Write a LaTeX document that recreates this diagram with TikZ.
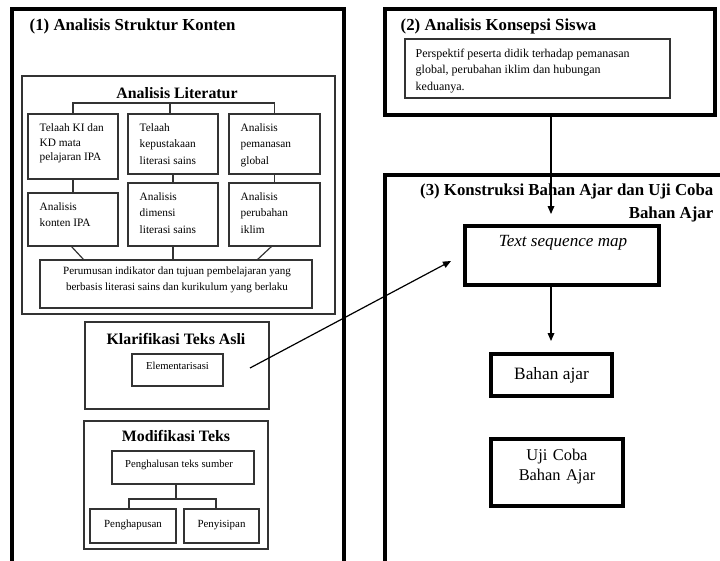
\documentclass[tikz,border=0pt]{standalone}
\usepackage{fontspec}
\setmainfont{Liberation Serif}
\usetikzlibrary{fit,arrows.meta}
\tikzset{
  outerbox/.style={draw, line width=2.6pt, inner sep=0pt},
  litbox/.style={draw=black!80, line width=0.9pt, inner sep=0pt},
  heavybox/.style={draw, line width=2.3pt, inner sep=0pt},
  smalltxt/.style={font=\fontsize{8.5}{11.5}\selectfont, align=left},
  ttl/.style={font=\bfseries\fontsize{12.6}{14}\selectfont},
  subttl/.style={font=\bfseries\fontsize{11.9}{13}\selectfont},
  conn/.style={draw=black!80, line width=0.9pt},
  arr/.style={draw, line width=0.9pt, -{Triangle[length=6pt,width=5pt]}}
}
\begin{document}
\begin{tikzpicture}[x=0.75pt,y=-0.75pt]
\useasboundingbox (0,0) rectangle (720,560);
\begin{scope}
\clip (0,0) rectangle (720,560);
% outer frames
\node[outerbox, fit={(12,9)(344,590)}] (b1) {};
\node[outerbox, fit={(385,9)(715,115)}] (b2) {};
\node[outerbox, fit={(385,175)(740,590)}] (b3) {};
\end{scope}
% titles
\node[ttl, anchor=west] (t1) at (25,26) {(1) Analisis Struktur Konten};
\node[ttl, anchor=west] (t2) at (396,26) {(2) Analisis Konsepsi Siswa};
\node[ttl, anchor=east, align=right, font=\bfseries\fontsize{12.6}{17}\selectfont] (t3) at (718,203) {(3) Konstruksi Bahan Ajar dan Uji Coba\\Bahan Ajar};
% box 2 content
\node[litbox, fit={(405,39)(670,98)}] (persp) {};
\node[smalltxt, anchor=north west, font=\fontsize{9}{12.5}\selectfont] (persptxt) at (411,44) {Perspektif peserta didik terhadap pemanasan\\global, perubahan iklim dan hubungan\\keduanya.};
% literature analysis
\node[litbox, fit={(22,76)(335,314)}] (lit) {};
\node[subttl] (littl) at (177,93) {Analisis Literatur};
\node[litbox, fit={(28,114)(118,179)}] (A) {};
\node[litbox, fit={(128,114)(218,174)}] (B) {};
\node[litbox, fit={(229,114)(320,174)}] (C) {};
\node[litbox, fit={(28,193)(118,246)}] (D) {};
\node[litbox, fit={(128,183)(218,246)}] (E) {};
\node[litbox, fit={(229,183)(320,246)}] (F) {};
\node[litbox, fit={(40,260)(312,308)}] (G) {};
\node[smalltxt, anchor=north west, font=\fontsize{8.5}{11}\selectfont] at (35,119) {Telaah KI dan\\KD mata\\pelajaran IPA};
\node[smalltxt, anchor=north west, font=\fontsize{8.5}{12.3}\selectfont] at (135,119) {Telaah\\kepustakaan\\literasi sains};
\node[smalltxt, anchor=north west, font=\fontsize{8.5}{12.3}\selectfont] at (236,119) {Analisis\\pemanasan\\global};
\node[smalltxt, anchor=north west, font=\fontsize{8.5}{12.3}\selectfont] at (35,198) {Analisis\\konten IPA};
\node[smalltxt, anchor=north west, font=\fontsize{8.5}{12.3}\selectfont] at (135,188) {Analisis\\dimensi\\literasi sains};
\node[smalltxt, anchor=north west, font=\fontsize{8.5}{12.3}\selectfont] at (236,188) {Analisis\\perubahan\\iklim};
\node[smalltxt, align=center, font=\fontsize{8.3}{11.5}\selectfont] at (177,280) {Perumusan indikator dan tujuan pembelajaran yang\\berbasis literasi sains dan kurikulum yang berlaku};
\coordinate (brk) at (170,103);
\draw[conn] (brk) -- (brk |- B.north);
\draw[conn] (A.north) |- (brk) -| (C.north);
\draw[conn] (A.south) -- (D.north);
\draw[conn] (B.south) -- (E.north);
\draw[conn] (C.south) -- (F.north);
\draw[conn] (E.south) -- (G.north -| E.south);
\coordinate (dd) at (71,246);
\coordinate (ff) at (272,246);
\draw[conn] (dd) -- (84,260);
\draw[conn] (ff) -- (257,260);
% Klarifikasi
\node[litbox, fit={(85,322)(269,409)}] (kla) {};
\node[subttl] (klatl) at (176,339) {Klarifikasi Teks Asli};
\node[litbox, fit={(132,354)(223,386)}] (elem) {};
\node[font=\fontsize{8}{9}\selectfont] at ([yshift=3pt]elem.center) {Elementarisasi};
% Modifikasi
\node[litbox, fit={(84,421)(268,549)}] (mod) {};
\node[subttl] (modtl) at (176,436) {Modifikasi Teks};
\node[litbox, fit={(112,451)(254,484)}] (halus) {};
\node[font=\fontsize{8}{9}\selectfont] at (179,465) {Penghalusan teks sumber};
\node[litbox, fit={(90,509)(176,543)}] (hapus) {};
\node[litbox, fit={(184,509)(259,543)}] (sisip) {};
\node[font=\fontsize{8.2}{9}\selectfont] at ([yshift=1pt]hapus.center) {Penghapusan};
\node[font=\fontsize{8.2}{9}\selectfont] at ([yshift=1pt]sisip.center) {Penyisipan};
\coordinate (mbrk) at (176,499);
\draw[conn] (halus.south -| mbrk) -- (mbrk);
\draw[conn] (129,509) |- (mbrk) -| (216,509);
% right column
\node[heavybox, fit={(465,226)(659,285)}] (tsm) {};
\node[font=\itshape\fontsize{12.8}{14}\selectfont] at (563,243) {Text sequence map};
\node[heavybox, fit={(491,354)(612,396)}] (bahan) {};
\node[font=\fontsize{13}{14}\selectfont] at (bahan.center) {Bahan ajar};
\node[heavybox, fit={(491,439)(623,506)}, align=center, font=\fontsize{12.3}{15}\selectfont] (uji) {Uji Coba\\Bahan Ajar};
\coordinate (tsmin) at (551,214);
\coordinate (bahanin) at (551,341);
\draw[arr] (b2.south -| tsmin) -- (tsmin);
\draw[arr] (tsm.south -| bahanin) -- (bahanin);
\coordinate (klaout) at (250,368);
\coordinate (tsmleft) at (451,261);
\draw[arr] (klaout) -- (tsmleft);
\end{tikzpicture}
\end{document}
